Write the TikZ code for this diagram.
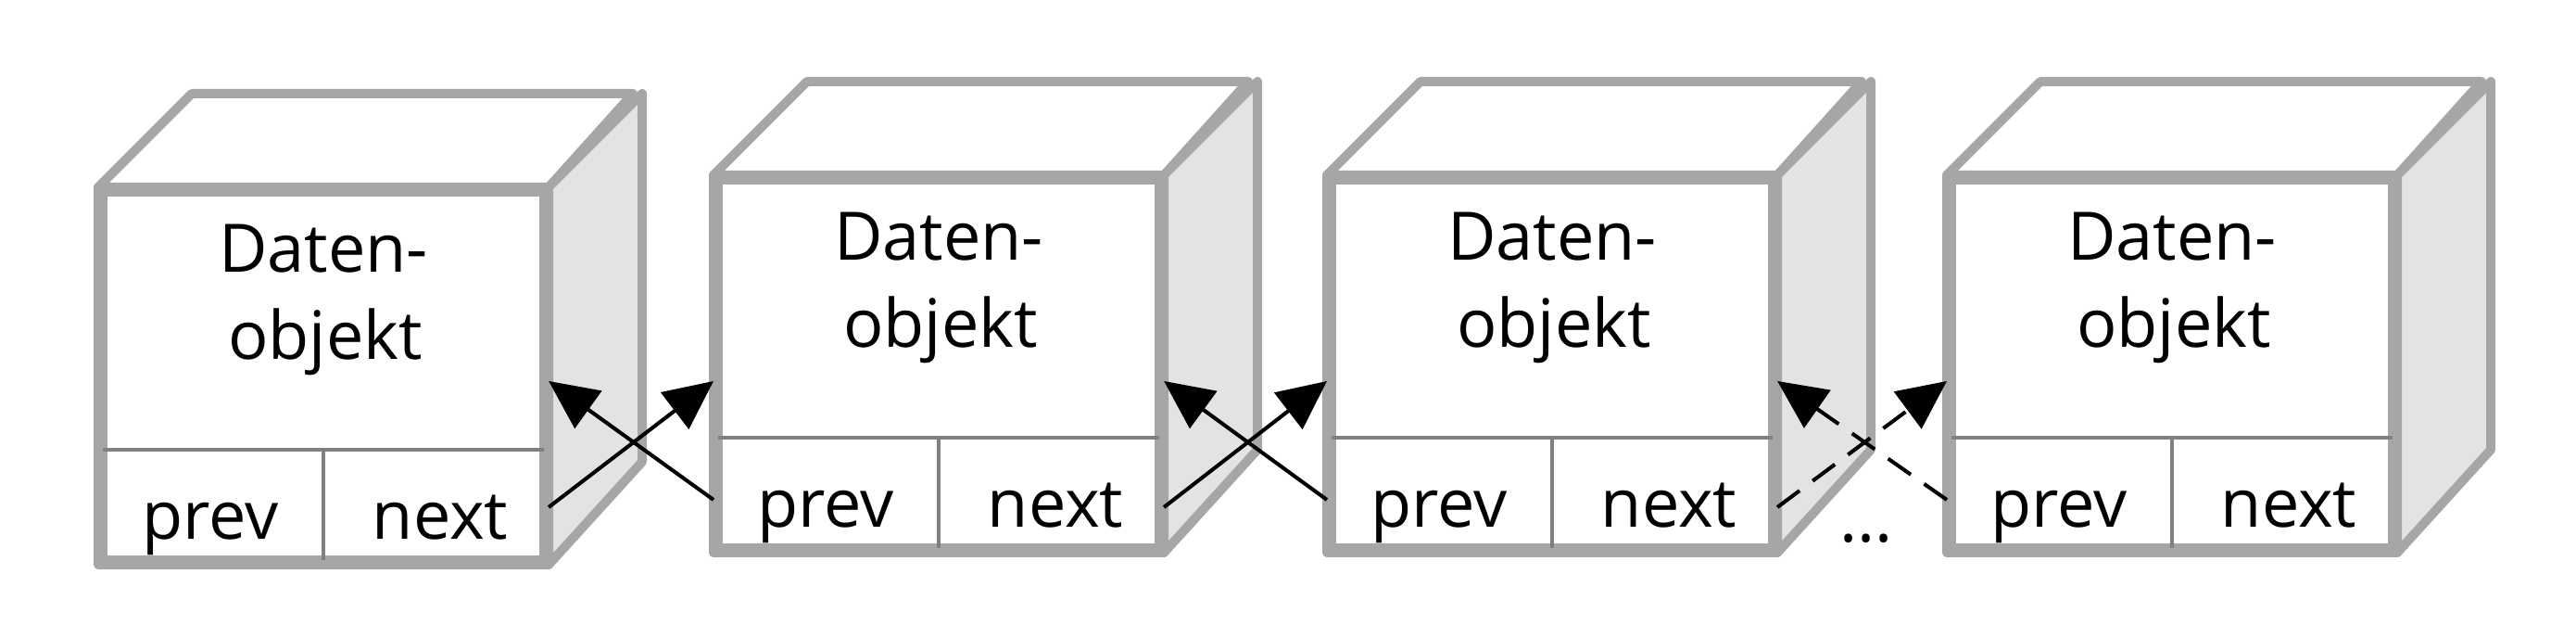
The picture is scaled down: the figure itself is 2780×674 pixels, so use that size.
\documentclass[tikz,border=0pt]{standalone}
\usepackage{fontspec}
\setmainfont{Open Sans}
\usetikzlibrary{arrows.meta,calc}
\definecolor{boxgray}{HTML}{A6A6A6}
\definecolor{sidegray}{HTML}{E3E3E3}
\definecolor{cellgray}{HTML}{808080}
\begin{document}
\begin{tikzpicture}[x=0.01cm, y=0.01cm,
    every node/.style={font=\fontsize{20.5}{24}\selectfont, inner sep=0pt},
    edge/.style={draw=boxgray, line width=2.8pt, line join=round},
    front/.style={edge, fill=white, minimum width=4.76cm, minimum height=3.97cm, anchor=south west},
    cell/.style={draw=cellgray, line width=1pt},
    link/.style={-{Triangle[length=15pt,width=14pt]}, line width=1.15pt},
    gap/.style={dash pattern=on 8.5pt off 5pt}]
    \useasboundingbox (0,0) rectangle (2780,674);
    % Boxes: front face, top, side, cells
    \foreach \i/\x/\y in {1/106/65, 2/770/78, 3/1432/78, 4/2101/78} {
        \node[front] (f\i) at (\x,\y) {};
        \filldraw[edge, fill=white] (f\i.north west) -- ++(101,101) -- ++(476,0) -- (f\i.north east) -- cycle;
        \filldraw[edge, fill=sidegray] (f\i.north east) -- ++(101,101) -- ++(0,-397) -- (f\i.south east) -- cycle;
        \draw[cell] ($(f\i.south west)+(0,124)$) -- ($(f\i.south east)+(0,124)$);
        \draw[cell] (f\i.south) -- ++(0,124);
        \draw[edge] (f\i.south west) rectangle (f\i.north east);
        % Labels
        \node[anchor=base] (d\i) at ($(f\i.north)+(0,-92)$) {Daten-};
        \node[anchor=base] (o\i) at ($(f\i.north)+(2,-186)$) {objekt};
        \node[anchor=base] (p\i) at ($(f\i.south west)+(121,27)$) {prev};
        \node[anchor=base] (n\i) at ($(f\i.south east)+(-117,27)$) {next};
    }
    % Arrow levels
    \coordinate (nextlow) at (0,127);
    \coordinate (nexthigh) at (0,263);
    \coordinate (prevlow) at (0,135);
    \coordinate (prevhigh) at (0,263);
    % next / prev pointers
    \draw[link] (f1.east |- nextlow) -- (f2.west |- nexthigh);
    \draw[link] (f2.west |- prevlow) -- (f1.east |- prevhigh);
    \draw[link] (f2.east |- nextlow) -- (f3.west |- nexthigh);
    \draw[link] (f3.west |- prevlow) -- (f2.east |- prevhigh);
    \draw[link, gap] (f3.east |- nextlow) -- (f4.west |- nexthigh);
    \draw[link, gap] (f4.west |- prevlow) -- (f3.east |- prevhigh);
    % Ellipsis
    \node[anchor=base] (dots) at (2014,89) {...};
\end{tikzpicture}
\end{document}
